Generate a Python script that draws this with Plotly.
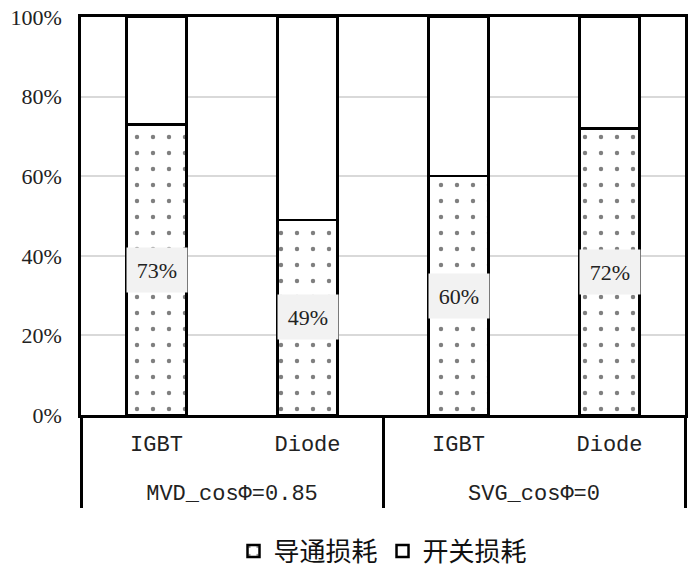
import plotly.graph_objects as go

groups = ['MVD_cosΦ=0.85', 'MVD_cosΦ=0.85', 'SVG_cosΦ=0', 'SVG_cosΦ=0']
devices = ['IGBT', 'Diode', 'IGBT', 'Diode']
conduction = [73, 49, 60, 72]   # 导通损耗 %
switching = [27, 51, 40, 28]    # 开关损耗 %

latin = 'Liberation Serif'
cjk = 'Noto Sans CJK SC'

# extra blank line under the device names pushes the group row down
dev_labels = [d + '<br> ' for d in devices]

fig = go.Figure()
fig.add_trace(go.Bar(
    x=[groups, dev_labels], y=conduction, name='导通损耗',
    marker=dict(color='white', line=dict(color='black', width=2.5),
                pattern=dict(shape='.', fgcolor='black', bgcolor='white',
                             size=16, solidity=0.06)),
    width=0.4, hoverinfo='skip'))
fig.add_trace(go.Bar(
    x=[groups, dev_labels], y=switching, name='开关损耗',
    marker=dict(color='white', line=dict(color='black', width=2.5)),
    width=0.4, hoverinfo='skip'))

# value labels in grey boxes, centred on the lower segment
for i, v in enumerate(conduction):
    fig.add_annotation(x=i, y=v / 2, xref='x', yref='y', text=f'{v}%',
                       showarrow=False, bgcolor='#f2f2f2', width=58, height=42,
                       font=dict(family=latin, size=22, color='#222'))

fig.update_layout(
    width=698, height=571,
    barmode='stack',
    plot_bgcolor='white', paper_bgcolor='white',
    margin=dict(l=81, r=13, t=17, b=156),
    font=dict(family=latin, size=20, color='#222'),
    legend=dict(orientation='h', x=0.5, xanchor='center',
                yref='container', y=0.035, yanchor='middle',
                font=dict(family=cjk, size=26, color='#111'),
                itemwidth=30, traceorder='normal'),
    showlegend=True,
)
fig.update_xaxes(
    type='multicategory', showline=True, linecolor='black', linewidth=2.5, mirror=True,
    showdividers=True, dividercolor='black', dividerwidth=2.5,
    tickfont=dict(family='Liberation Mono', size=22, color='#222'),
    ticks='', ticklabelstandoff=7, automargin=False)
fig.update_yaxes(
    range=[0, 100], dtick=20, ticksuffix='%', showline=True, linecolor='black',
    linewidth=2.5, mirror=True, showgrid=True, gridcolor='#d9d9d9', gridwidth=2,
    tickfont=dict(family=latin, size=22, color='#222'), zeroline=False,
    ticks='outside', ticklen=12, tickcolor='rgba(0,0,0,0)', automargin=False)

fig.write_html('out.html', config={'displayModeBar': False},
               post_script="document.body.style.margin='0';")
